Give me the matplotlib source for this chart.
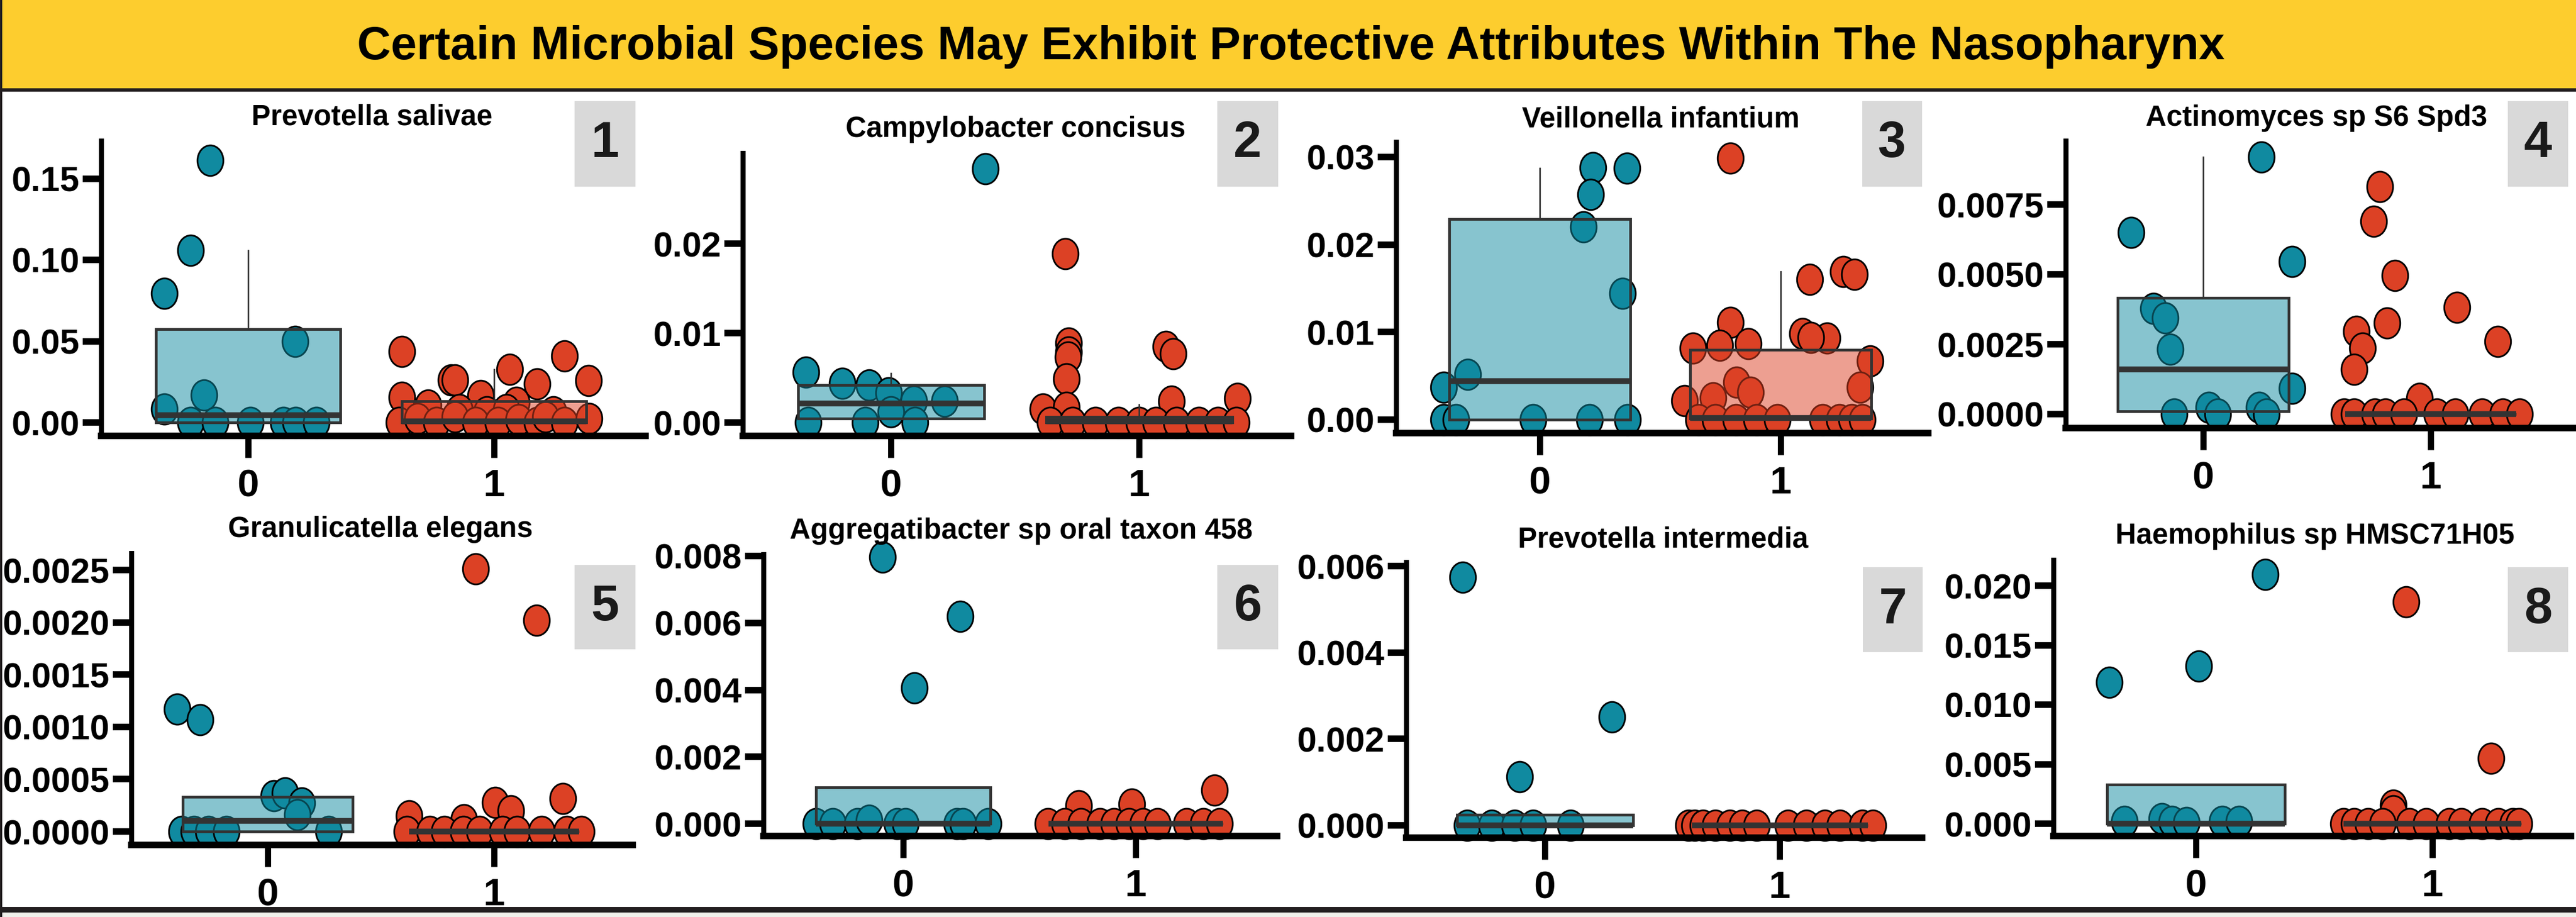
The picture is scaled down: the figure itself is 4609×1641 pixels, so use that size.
import matplotlib
matplotlib.use("Agg")
import matplotlib.pyplot as plt
from matplotlib.patches import Rectangle
from matplotlib.path import Path
from matplotlib.markers import MarkerStyle
from matplotlib.transforms import Affine2D

# ---------------------------------------------------------------- data
TITLE = "Certain Microbial Species May Exhibit Protective Attributes Within The Nasopharynx"

species = ["Prevotella salivae", "Campylobacter concisus", "Veillonella infantium",
           "Actinomyces sp S6 Spd3", "Granulicatella elegans",
           "Aggregatibacter sp oral taxon 458", "Prevotella intermedia",
           "Haemophilus sp HMSC71H05"]
groups = ["0", "1"]

# group 0: jitter offset around x=0 and relative abundance
off0 = [
    [-0.155, -0.235, -0.341, 0.19, -0.18, -0.341, -0.235, -0.134, 0.008, 0.143, 0.193, 0.277],
    [0.38, -0.342, -0.197, -0.087, -0.008, 0.092, 0.217, 0.0, -0.333, -0.103, 0.097],
    [0.22, 0.362, 0.211, 0.18, 0.343, -0.3, -0.398, -0.398, -0.348, -0.029, 0.206, 0.365],
    [0.255, -0.318, 0.391, -0.218, -0.167, -0.145, 0.391, -0.127, 0.024, 0.064, 0.245, 0.278],
    [-0.399, -0.298, 0.027, 0.077, 0.15, 0.132, -0.38, -0.325, -0.261, -0.183, 0.269],
    [-0.089, 0.246, 0.048, -0.374, -0.302, -0.196, -0.146, -0.027, 0.009, 0.231, 0.258, 0.365],
    [-0.349, 0.286, -0.108, -0.332, -0.226, -0.129, -0.049, 0.109],
    [0.292, 0.012, -0.367, -0.302, -0.145, -0.101, -0.04, 0.112, 0.182],
]
val0 = [
    [0.161, 0.106, 0.0795, 0.050, 0.0167, 0.0082, 0, 0, 0, 0, 0, 0],
    [0.0284, 0.0056, 0.0044, 0.0042, 0.0033, 0.0024, 0.0024, 0.0012, 0, 0, 0],
    [0.0288, 0.0287, 0.0257, 0.022, 0.0144, 0.0052, 0.0037, 0, 0, 0, 0, 0],
    [0.0092, 0.0065, 0.00546, 0.00378, 0.00344, 0.00233, 0.00092, 0, 0.00024, 0, 0.00024, 0],
    [0.00117, 0.00107, 0.00034, 0.00037, 0.00027, 0.00016, 0, 0, 0, 0, 0],
    [0.00796, 0.00619, 0.00406, 0, 0, 0, 0.0001, 0, 0, 0, 0, 0],
    [0.00574, 0.00251, 0.00112, 0, 0, 0, 0, 0],
    [0.02095, 0.01324, 0.01186, 0.0002, 0.0004, 0.0002, 0.0001, 0.0002, 0.0002],
]

# group 1: jitter offset around x=1 and relative abundance
off1 = [
    [-0.375, 0.286, 0.064, 0.383, -0.176, -0.16, 0.176, -0.375, -0.055, -0.269, 0.092, -0.14,
     -0.03, 0.05, 0.24, -0.387, -0.311, -0.235, -0.16, -0.076, 0.017, 0.1, 0.176, 0.21, 0.286, 0.387],
    [-0.297, -0.283, -0.283, -0.285, 0.108, 0.137, -0.292, -0.387, -0.292, 0.13, 0.397,
     -0.358, -0.267, -0.175, -0.083, 0.0, 0.067, 0.15, 0.242, 0.317, 0.392],
    [-0.208, 0.12, 0.26, 0.307, -0.208, 0.09, 0.192, 0.125, -0.365, -0.254, -0.134, 0.372,
     -0.184, 0.33, -0.28, -0.125, -0.4, -0.34, -0.271, -0.185, -0.1, -0.014, 0.175, 0.244, 0.295, 0.338],
    [-0.224, -0.251, -0.158, 0.115, -0.191, -0.327, -0.3, -0.336, 0.296, -0.049,
     -0.382, -0.336, -0.245, -0.2, -0.118, 0.027, 0.109, 0.227, 0.318, 0.391],
    [-0.082, 0.188, 0.303, 0.005, 0.073, -0.375, -0.133,
     -0.384, -0.283, -0.219, -0.137, -0.064, 0.037, 0.101, 0.21, 0.32, 0.384],
    [0.338, -0.244, -0.016, -0.377, -0.306, -0.235, -0.155, -0.093, -0.03, 0.032, 0.094, 0.219, 0.29, 0.361],
    [-0.388, -0.362, -0.326, -0.273, -0.212, -0.159, -0.097, 0.035, 0.115, 0.194, 0.256, 0.353, 0.397],
    [-0.110, 0.248, -0.166, -0.166, -0.376, -0.332, -0.271, -0.21, -0.096, -0.026, 0.07, 0.122,
     0.21, 0.28, 0.341, 0.367],
]
val1 = [
    [0.0438, 0.041, 0.0328, 0.0257, 0.0262, 0.026, 0.0238, 0.0156, 0.0164, 0.0107, 0.0123, 0.008,
     0.0066, 0.008, 0.0066, 0, 0.0025, 0, 0.0033, 0, 0, 0.0016, 0, 0.0033, 0, 0.0025],
    [0.0189, 0.0089, 0.0079, 0.0073, 0.0085, 0.0077, 0.0049, 0.0015, 0.0017, 0.0024, 0.0027,
     0, 0, 0, 0, 0, 0, 0, 0, 0, 0],
    [0.0299, 0.016, 0.0169, 0.0166, 0.0111, 0.0098, 0.0093, 0.0094, 0.0082, 0.0085, 0.0087, 0.0067,
     0.0043, 0.0037, 0.0025, 0.0031, 0.0022, 0, 0, 0, 0, 0, 0, 0, 0, 0],
    [0.00814, 0.0069, 0.00497, 0.00383, 0.00327, 0.00296, 0.00237, 0.0016, 0.0026, 0.00056,
     0, 0, 0, 0, 0, 0, 0, 0, 0, 0],
    [0.00251, 0.00202, 0.000316, 0.00028, 0.0002, 0.00015, 0.00011, 0, 0, 0, 0, 0, 0, 0, 0, 0, 0],
    [0.001, 0.00054, 0.00058, 0, 0, 0, 0, 0, 0, 0, 0, 0, 0, 0],
    [0, 0, 0, 0, 0, 0, 0, 0, 0, 0, 0, 0, 0],
    [0.01862, 0.00548, 0.00155, 0.0011, 0, 0, 0, 0, 0, 0, 0, 0, 0, 0, 0, 0],
]

# box statistics (q1, median, q3, upper whisker)
q1_0 = [0.0, 0.00045, 0.0, 0.0001, 0.0, 0.0, 0.0, 0.0]
med0 = [0.0046, 0.0021, 0.0044, 0.0016, 0.0001, 0.0, 0.0, 0.0]
q3_0 = [0.0574, 0.0042, 0.0229, 0.00417, 0.00033, 0.00108, 0.00024, 0.00328]
hi_0 = [0.106, 0.0055, 0.0287, 0.0092, 0.00033, 0.00108, 0.00024, 0.00328]
q1_1 = [0.0, 0.0, 0.0001, 0.0, 0.0, 0.0, 0.0, 0.0]
med1 = [0.0008, 0.00015, 0.0002, 0.0, 0.0, 0.0, 0.0, 0.0]
q3_1 = [0.0131, 0.0006, 0.008, 0.0, 0.0, 0.0, 0.0, 0.0]
hi_1 = [0.0328, 0.002, 0.0169, 0.0, 0.0, 0.0, 0.0, 0.0]

yticks = [
    [0.0, 0.05, 0.10, 0.15],
    [0.0, 0.01, 0.02],
    [0.0, 0.01, 0.02, 0.03],
    [0.0, 0.0025, 0.005, 0.0075],
    [0.0, 0.0005, 0.001, 0.0015, 0.002, 0.0025],
    [0.0, 0.002, 0.004, 0.006, 0.008],
    [0.0, 0.002, 0.004, 0.006],
    [0.0, 0.005, 0.010, 0.015, 0.020],
]
decimals = [2, 2, 2, 4, 4, 3, 3, 3]

# ---------------------------------------------------------------- layout (pixels)
W, H = 4609, 1641
# left spine, right end, x of tick 0, x of tick 1, x-axis y, spine top, y of 0, px per unit
geom = [
    (181, 1155, 444, 884, 780, 252, 756, 2910),
    (1329, 2310, 1594, 2038, 780, 274, 756, 16000),
    (2498, 3450, 2755, 3186, 775, 254, 751, 15667),
    (3696, 4605, 3942, 4349, 766, 252, 741, 50000),
    (235, 1132, 479, 884, 1512, 990, 1488, 187200),
    (1366, 2285, 1616, 2032, 1496, 992, 1474, 59875),
    (2516, 3439, 2764, 3184, 1499, 1006, 1477, 77333),
    (3674, 4600, 3929, 4352, 1496, 1002, 1474, 21300),
]
# panel title centre x and baseline y
title_pos = [(666, 223), (1817, 245), (2971, 228), (4145, 225),
             (681, 961), (1827, 964), (2976, 980), (4142, 973)]
# grey number boxes: x0, x1, y0, y1
num_box = [(1028, 1137, 181, 334), (2178, 2287, 181, 334), (3332, 3439, 181, 334), (4487, 4595, 181, 334),
           (1028, 1137, 1011, 1162), (2178, 2287, 1011, 1162), (3333, 3440, 1015, 1167), (4487, 4595, 1015, 1167)]

BLUE = "#108AA0"
RED = "#DC4125"
DARK = "#333333"

plt.rcParams['font.family'] = ['Liberation Sans', 'DejaVu Sans']
plt.rcParams['font.weight'] = 'bold'

fig = plt.figure(figsize=(W / 100, H / 100), dpi=100)
fig.patch.set_facecolor("white")


def fx(x):
    return x / W


def fy(y):
    return 1 - y / H


# frame: yellow banner, dark rules, left border
fig.patches.append(Rectangle((0, fy(158)), 1, 158 / H, transform=fig.transFigure,
                             facecolor="#FDCD2E", edgecolor="none", zorder=0))
fig.patches.append(Rectangle((0, fy(164)), 1, 6 / H, transform=fig.transFigure,
                             facecolor="#231F20", edgecolor="none", zorder=1))
fig.patches.append(Rectangle((0, fy(1633)), 1, 10 / H, transform=fig.transFigure,
                             facecolor="#231F20", edgecolor="none", zorder=1))
fig.patches.append(Rectangle((0, 0), 1, 8 / H, transform=fig.transFigure,
                             facecolor="#F1F1EB", edgecolor="none", zorder=1))
fig.patches.append(Rectangle((0, 0), 4 / W, 1, transform=fig.transFigure,
                             facecolor="#231F20", edgecolor="none", zorder=1))

fig.text(fx(2310), fy(106), TITLE, ha="center", va="baseline", fontsize=60,
         fontweight="bold", color="black")

# slightly tall ellipse marker (the source figure is stretched vertically)
ell = MarkerStyle(Path.unit_circle().transformed(Affine2D().scale(1.0, 1.18)))

for i, name in enumerate(species):
    left, right, x0, x1, bot, top, y0, ppu = geom[i]
    ax = fig.add_axes([fx(left), fy(bot), (right - left) / W, (bot - top) / H])
    sc = x1 - x0
    ax.set_xlim((left - x0) / sc, (right - x0) / sc)
    ax.set_ylim((y0 - bot) / ppu, (y0 - top) / ppu)

    # jittered points
    ax.scatter([0 + o for o in off0[i]], val0[i], s=1550, marker=ell, c=BLUE,
               edgecolors="black", linewidths=2.2, zorder=2, clip_on=False)
    ax.scatter([1 + o for o in off1[i]], val1[i], s=1550, marker=ell, c=RED,
               edgecolors="black", linewidths=2.2, zorder=2, clip_on=False)

    # boxes on top, half transparent
    stats = [
        dict(q1=q1_0[i], med=med0[i], q3=q3_0[i], whislo=q1_0[i], whishi=hi_0[i]),
        dict(q1=q1_1[i], med=med1[i], q3=q3_1[i], whislo=q1_1[i], whishi=hi_1[i]),
    ]
    bp = ax.bxp(stats, positions=[0, 1], widths=0.75, patch_artist=True,
                showfliers=False, showcaps=False, zorder=3,
                boxprops=dict(edgecolor=DARK, linewidth=3.5),
                medianprops=dict(color=DARK, linewidth=7.5, solid_capstyle="butt"),
                whiskerprops=dict(color=DARK, linewidth=2))
    bp["boxes"][0].set_facecolor((16 / 255, 138 / 255, 160 / 255, 0.5))
    bp["boxes"][1].set_facecolor((220 / 255, 65 / 255, 37 / 255, 0.5))

    # axes styling
    for s in ["top", "right"]:
        ax.spines[s].set_visible(False)
    ax.spines["left"].set_linewidth(6.5)
    ax.spines["bottom"].set_linewidth(8.4)
    ax.set_facecolor("none")
    ax.set_xticks([0, 1])
    ax.set_xticklabels(groups)
    ax.set_yticks(yticks[i])
    ax.set_yticklabels([f"{t:.{decimals[i]}f}" for t in yticks[i]])
    ax.tick_params(axis="y", length=24, width=8.4, pad=4, labelsize=45)
    ax.tick_params(axis="x", length=28, width=8, pad=14, labelsize=50)

    # panel title
    tx, ty = title_pos[i]
    fig.text(fx(tx), fy(ty), name, ha="center", va="baseline", fontsize=37,
             fontweight="bold", color="black")

    # grey number box
    bx0, bx1, by0, by1 = num_box[i]
    fig.patches.append(Rectangle((fx(bx0), fy(by1)), (bx1 - bx0) / W, (by1 - by0) / H,
                                 transform=fig.transFigure, facecolor="#D9D9D9",
                                 edgecolor="none", zorder=1))
    fig.text(fx((bx0 + bx1) / 2), fy((by0 + by1) / 2), str(i + 1), ha="center",
             va="center", fontsize=65, fontweight="bold", color="#1A1A1A")

fig.savefig("out.png", dpi=100)
